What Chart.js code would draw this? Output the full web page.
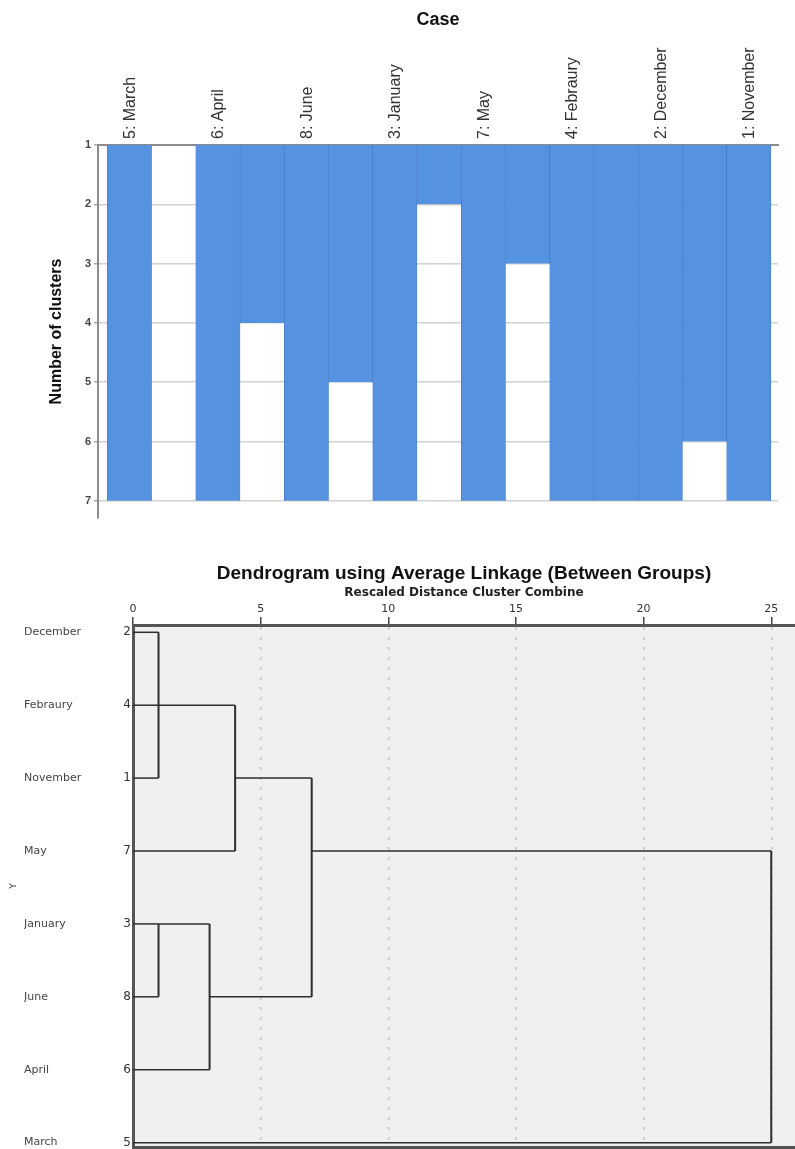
<!DOCTYPE html>
<html>
<head>
<meta charset="utf-8">
<title>Icicle plot and dendrogram</title>
<script src="https://cdn.jsdelivr.net/npm/chart.js@4.4.1/dist/chart.umd.min.js"></script>
<style>
  body { margin: 0; background: #fff; }
  #icicleBox { position: absolute; left: 0; top: 0; width: 795px; height: 540px; }
  #dendroBox { position: absolute; left: 0; top: 540px; width: 795px; height: 609px; }
</style>
</head>
<body>
<div id="icicleBox"><canvas id="icicleChart"></canvas></div>
<div id="dendroBox"><canvas id="dendroChart"></canvas></div>
<script>
// icicle plot: cases in display order, and the cluster count down to which
// each neighbouring pair of cases stays joined
const caseLabels = ["5: March", "6: April", "8: June", "3: January", "7: May", "4: Febraury", "2: December", "1: November"];
const gapJoinLevels = [1, 4, 5, 2, 3, 7, 6];
const clusterLevels = [1, 2, 3, 4, 5, 6, 7];

// dendrogram: leaves top to bottom, then the agglomeration schedule
const leafNames = ["December", "Febraury", "November", "May", "January", "June", "April", "March"];
const leafIds = [2, 4, 1, 7, 3, 8, 6, 5];
const stageClusterA = [2, 3, 2, 3, 2, 2, 2];
const stageClusterB = [1, 8, 4, 6, 7, 3, 5];
const stageDistance = [1, 1, 1, 3, 4, 7, 25];
const stageStemRow = [1, 4, 1, 5, 2, 3, 3];
const distanceTicks = [0, 5, 10, 15, 20, 25];

const SANS = "'Liberation Sans', Arial, sans-serif";
const DEJAVU = "'DejaVu Sans', Verdana, sans-serif";
const BLUE = "#5592e0";

document.addEventListener("DOMContentLoaded", () => {
  renderIcicle();
  renderDendrogram();
});

function renderIcicle() {
  const top = clusterLevels[clusterLevels.length - 1];
  const caseBars = caseLabels.map((_, i) => ({ x: i * 2, y: [1, top] }));
  const gapBars = gapJoinLevels
    .map((level, i) => ({ x: i * 2 + 1, y: [1, level] }))
    .filter((bar) => bar.y[1] > 1);
  const columns = Array.from({ length: caseLabels.length * 2 - 1 }, (_, i) => i);

  const barStyle = {
    backgroundColor: BLUE,
    borderColor: "#4576bb",
    borderWidth: { left: 0.6, right: 0.6, top: 0, bottom: 0 },
    borderSkipped: false,
  };

  new Chart(document.getElementById("icicleChart"), {
    type: "bar",
    data: {
      datasets: [
        { label: "Cases", data: caseBars, ...barStyle },
        { label: "Joins", data: gapBars, ...barStyle },
      ],
    },
    options: {
      responsive: true,
      maintainAspectRatio: false,
      animation: false,
      layout: { padding: { top: 0, right: 17, bottom: 22, left: 0 } },
      datasets: { bar: { grouped: false, barPercentage: 1, categoryPercentage: 1 } },
      plugins: { legend: { display: false }, tooltip: { enabled: false } },
      scales: {
        x: {
          type: "linear",
          position: "top",
          offset: false,
          min: -0.71,
          max: 14.66,
          afterBuildTicks: (scale) => {
            scale.ticks = columns.map((v) => ({ value: v }));
          },
          afterFit: (scale) => {
            scale.height = 145;
          },
          ticks: {
            autoSkip: false,
            minRotation: 90,
            maxRotation: 90,
            padding: 6,
            labelOffset: 20,
            color: "#333",
            font: { family: SANS, size: 16 },
            callback: (value) => (value % 2 === 0 ? caseLabels[value / 2] : ""),
          },
          grid: { display: true, offset: false, color: "transparent", drawTicks: false },
          border: { display: true, color: "#8c8c8c", width: 2 },
          title: {
            display: true,
            text: "Case",
            color: "#111",
            font: { family: SANS, size: 18, weight: "bold" },
            padding: { top: 9, bottom: 0 },
          },
        },
        y: {
          type: "linear",
          reverse: true,
          min: 1,
          max: 7.29,
          afterBuildTicks: (scale) => {
            scale.ticks = clusterLevels.map((v) => ({ value: v }));
          },
          afterFit: (scale) => {
            scale.width = 98;
          },
          ticks: {
            padding: 3,
            color: "#444",
            font: { family: SANS, size: 11, weight: "bold" },
          },
          grid: { color: "#d2d2d2", lineWidth: 1.5, tickLength: 4, tickColor: "#aaa" },
          border: { display: true, color: "#8c8c8c", width: 2 },
          title: {
            display: true,
            text: "Number of clusters",
            color: "#111",
            font: { family: SANS, size: 16, weight: "bold" },
            padding: { top: 47, bottom: 0 },
          },
        },
      },
    },
  });
}

function buildDendrogramSegments() {
  const stems = {};
  leafIds.forEach((id, row) => {
    stems[id] = { row, x: 0 };
  });

  const segments = [];
  stageClusterA.forEach((a, i) => {
    const b = stageClusterB[i];
    const dist = stageDistance[i];
    const sa = stems[a];
    const sb = stems[b];
    segments.push({ vertical: false, points: [{ x: sa.x, y: sa.row }, { x: dist, y: sa.row }] });
    segments.push({ vertical: false, points: [{ x: sb.x, y: sb.row }, { x: dist, y: sb.row }] });
    segments.push({ vertical: true, points: [{ x: dist, y: sa.row }, { x: dist, y: sb.row }] });
    stems[a] = { row: stageStemRow[i], x: dist };
  });
  return segments;
}

const plotBackground = {
  id: "plotBackground",
  beforeDraw(chart) {
    const { ctx, chartArea } = chart;
    ctx.save();
    ctx.fillStyle = "#f0f0f0";
    ctx.fillRect(chartArea.left, chartArea.top, chartArea.right - chartArea.left, chartArea.bottom - chartArea.top);
    ctx.restore();
  },
};

function fixRowAxis(width) {
  return (scale) => {
    scale.width = width;
    scale.paddingTop = 0;
    scale.paddingBottom = 0;
  };
}

function renderDendrogram() {
  const segments = buildDendrogramSegments();
  const rowTicks = (scale) => {
    scale.ticks = leafNames.map((_, i) => ({ value: i }));
  };
  const rowScale = { type: "linear", reverse: true, min: -0.1, max: 7.06, afterBuildTicks: rowTicks };

  new Chart(document.getElementById("dendroChart"), {
    type: "scatter",
    data: {
      datasets: segments.map((seg) => ({
        data: seg.points,
        showLine: true,
        borderColor: "#2e2e2e",
        borderWidth: seg.vertical ? 2 : 1.5,
        pointRadius: 0,
        fill: false,
      })),
    },
    plugins: [plotBackground],
    options: {
      responsive: true,
      maintainAspectRatio: false,
      animation: false,
      layout: { padding: 0 },
      plugins: {
        legend: { display: false },
        tooltip: { enabled: false },
        title: {
          display: true,
          fullSize: false,
          text: "Dendrogram using Average Linkage (Between Groups)",
          color: "#111",
          font: { family: SANS, size: 19, weight: "bold" },
          padding: { top: 22, bottom: 0 },
        },
        subtitle: {
          display: true,
          fullSize: false,
          text: "Rescaled Distance Cluster Combine",
          color: "#222",
          font: { family: DEJAVU, size: 12, weight: "bold" },
          padding: { top: 1, bottom: 0 },
        },
      },
      scales: {
        x: {
          type: "linear",
          position: "top",
          min: 0,
          max: 25.93,
          afterBuildTicks: (scale) => {
            scale.ticks = distanceTicks.map((v) => ({ value: v }));
          },
          afterFit: (scale) => {
            scale.height = 24.8;
          },
          ticks: { padding: 1, color: "#333", font: { family: DEJAVU, size: 11 } },
          grid: {
            color: (c) => (c.tick && c.tick.value === 0 ? "transparent" : "#c6c6c6"),
            lineWidth: 1.5,
            tickLength: 8,
            tickWidth: 1.5,
            tickColor: "#444",
            tickBorderDash: [],
          },
          border: { display: true, color: "#555", width: 3, dash: [3, 7] },
        },
        xb: {
          type: "linear",
          position: "bottom",
          min: 0,
          max: 25.93,
          afterFit: (scale) => {
            scale.height = 2;
          },
          ticks: { display: false },
          grid: { display: true, color: "transparent", drawTicks: false },
          border: { display: true, color: "#555", width: 3 },
        },
        y: {
          ...rowScale,
          position: "left",
          weight: 0,
          afterFit: fixRowAxis(20),
          ticks: {
            padding: 2,
            color: "#333",
            font: { family: DEJAVU, size: 12 },
            callback: (value) => leafIds[value],
          },
          grid: { display: true, color: "transparent", drawTicks: false },
          border: { display: true, color: "#555", width: 3 },
        },
        yName: {
          ...rowScale,
          position: "left",
          weight: 1,
          afterFit: fixRowAxis(89),
          ticks: {
            crossAlign: "far",
            color: "#444",
            font: { family: DEJAVU, size: 11 },
            callback: (value) => leafNames[value],
          },
          grid: { display: false },
          border: { display: false },
        },
        yTitle: {
          ...rowScale,
          position: "left",
          weight: 2,
          afterFit: fixRowAxis(24),
          ticks: { display: false },
          grid: { display: false },
          border: { display: false },
          title: {
            display: true,
            text: "Y",
            color: "#444",
            font: { family: DEJAVU, size: 9 },
            padding: { top: 8, bottom: 0 },
          },
        },
      },
    },
  });
}
</script>
</body>
</html>
